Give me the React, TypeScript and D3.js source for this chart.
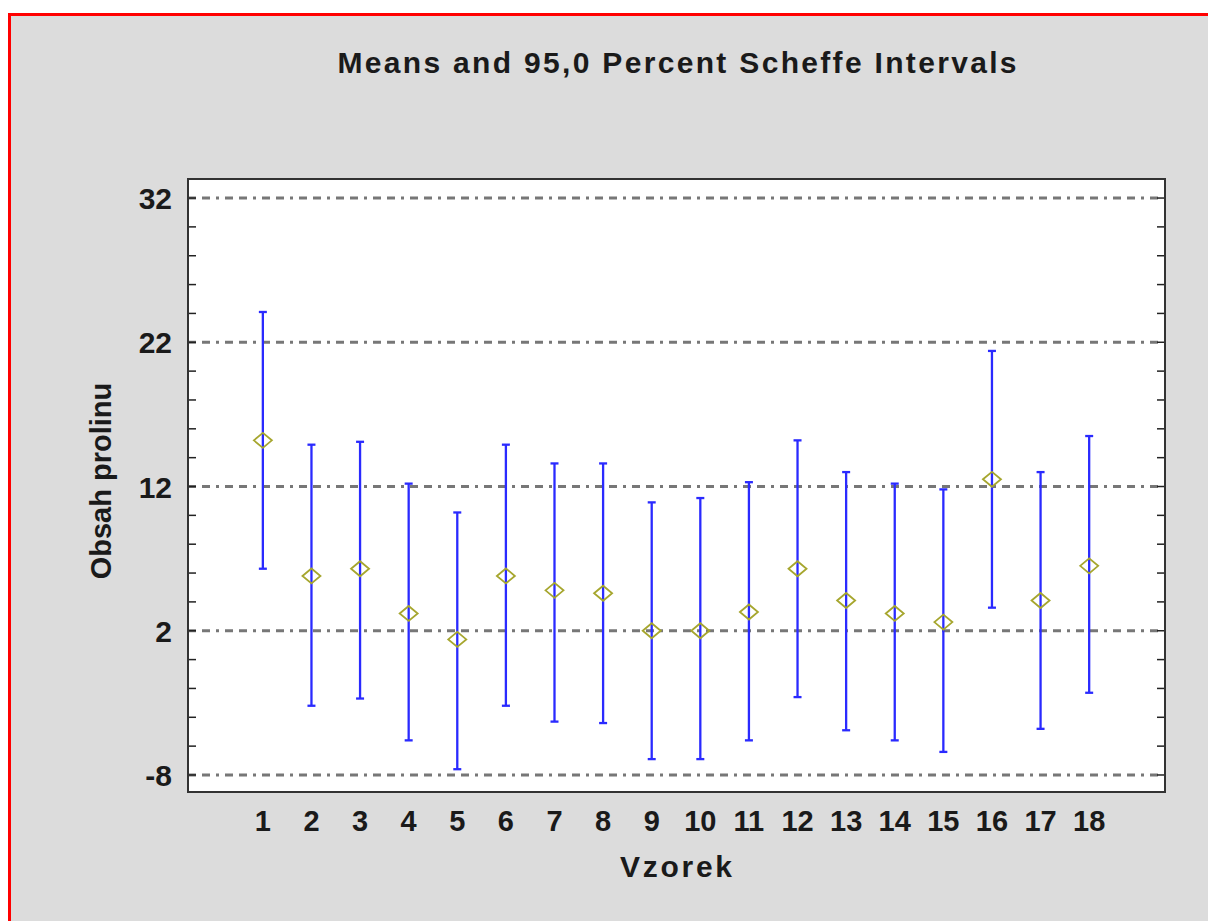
import React from "react";
import * as d3 from "d3";

const categories = ["1","2","3","4","5","6","7","8","9","10","11","12","13","14","15","16","17","18"];
const means = [15.2, 5.8, 6.3, 3.2, 1.4, 5.8, 4.8, 4.6, 2.0, 2.0, 3.3, 6.3, 4.1, 3.2, 2.6, 12.5, 4.1, 6.5];
const lowers = [6.3, -3.2, -2.7, -5.6, -7.6, -3.2, -4.3, -4.4, -6.9, -6.9, -5.6, -2.6, -4.9, -5.6, -6.4, 3.6, -4.8, -2.3];
const uppers = [24.1, 14.9, 15.1, 12.2, 10.2, 14.9, 13.6, 13.6, 10.9, 11.2, 12.3, 15.2, 13.0, 12.2, 11.8, 21.4, 13.0, 15.5];
const yTicks = [32, 22, 12, 2, -8];
const minorTicks = d3.range(-8, 33, 2);

const title = "Means and 95,0 Percent Scheffe Intervals";
const xLabel = "Vzorek";
const yLabel = "Obsah prolinu";

const L = 188, R = 1165, T = 179, B = 792;

export default function App() {
  const x = d3.scaleLinear().domain([-0.54, 19.56]).range([L, R]);
  const y = d3.scaleLinear().domain([-9.18, 33.32]).range([B, T]);
  const font = "'Liberation Sans', Arial, sans-serif";
  const blue = "#2a2aff";
  const olive = "#a6a62e";
  return (
    <svg width={1208} height={921} style={{ position: "absolute", left: 0, top: 0 }}>
      <rect x={0} y={0} width={1208} height={921} fill="#ffffff" />
      <rect x={9.5} y={14.5} width={1220} height={930} fill="#dcdcdc" stroke="#ff0000" strokeWidth={3} />
      <text x={677} y={73} textAnchor="middle" fontFamily={font} fontWeight="bold" fontSize={30} fill="#1a1a1a" textLength={679} lengthAdjust="spacing">{title}</text>
      <rect x={L} y={T} width={R - L} height={B - T} fill="#ffffff" />
      {yTicks.map((t) => (
        <line key={"g" + t} x1={L} x2={R} y1={y(t)} y2={y(t)} stroke="#777777" strokeWidth={3} strokeDasharray="8,6,8,6,3,6" />
      ))}
      {minorTicks.map((t) => (
        <g key={"m" + t}>
          <line x1={L} x2={L + 8} y1={y(t)} y2={y(t)} stroke="#222" strokeWidth={1.5} />
          <line x1={R - 8} x2={R} y1={y(t)} y2={y(t)} stroke="#222" strokeWidth={1.5} />
        </g>
      ))}
      {categories.map((c, i) => {
        const cx = x(i + 1);
        return (
          <g key={c}>
            <line x1={cx} x2={cx} y1={y(uppers[i])} y2={y(lowers[i])} stroke={blue} strokeWidth={2.3} />
            <line x1={cx - 4} x2={cx + 4} y1={y(uppers[i])} y2={y(uppers[i])} stroke={blue} strokeWidth={2.3} />
            <line x1={cx - 4} x2={cx + 4} y1={y(lowers[i])} y2={y(lowers[i])} stroke={blue} strokeWidth={2.3} />
            <path d={`M${cx - 9},${y(means[i])} L${cx},${y(means[i]) - 7.5} L${cx + 9},${y(means[i])} L${cx},${y(means[i]) + 7.5} Z`} fill="none" stroke={olive} strokeWidth={1.8} />
            <text x={cx} y={831} textAnchor="middle" fontFamily={font} fontWeight="bold" fontSize={29} fill="#1a1a1a">{c}</text>
          </g>
        );
      })}
      <rect x={L} y={T} width={R - L} height={B - T} fill="none" stroke="#333333" strokeWidth={2} />
      {yTicks.map((t) => (
        <text key={"l" + t} x={172} y={y(t) + 11} textAnchor="end" fontFamily={font} fontWeight="bold" fontSize={30} fill="#1a1a1a">{t}</text>
      ))}
      <text x={676} y={877} textAnchor="middle" fontFamily={font} fontWeight="bold" fontSize={30} fill="#1a1a1a" textLength={112} lengthAdjust="spacing">{xLabel}</text>
      <text transform={`translate(111,481) rotate(-90)`} textAnchor="middle" fontFamily={font} fontWeight="bold" fontSize={29} fill="#1a1a1a">{yLabel}</text>
    </svg>
  );
}
